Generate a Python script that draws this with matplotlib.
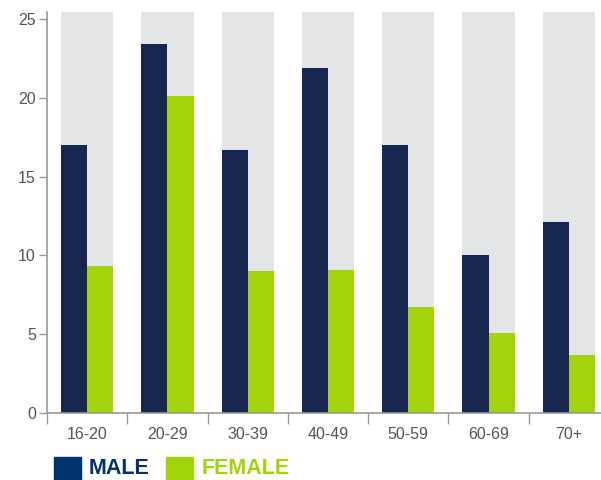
import numpy as np
import matplotlib
matplotlib.use("Agg")
import matplotlib.pyplot as plt
from matplotlib.patches import Rectangle

plt.rcParams["font.family"] = ["Liberation Sans", "DejaVu Sans"]

# data
age_groups = ["16-20", "20-29", "30-39", "40-49", "50-59", "60-69", "70+"]
male = [17.0, 23.4, 16.7, 21.9, 17.0, 10.0, 12.1]
female = [9.35, 20.1, 9.0, 9.07, 6.75, 5.05, 3.65]
y_top = 25.45

navy = "#17264f"
green = "#a3d30a"
grey_bg = "#e4e5e7"
axis_grey = "#9a9a9a"
text_grey = "#555555"

fig = plt.figure(figsize=(6.01, 4.80), dpi=100)
ax = fig.add_axes([47 / 601, 1 - 413 / 480, 562 / 601, 401 / 480])

x = np.arange(len(age_groups))
w = 0.325

# grey background columns spanning full height
ax.bar(x, [y_top] * len(x), width=2 * w, color=grey_bg, zorder=1)
ax.bar(x - w / 2, male, width=w, color=navy, zorder=2)
ax.bar(x + w / 2, female, width=w, color=green, zorder=2)

ax.set_xlim(-0.5, len(x) - 0.5)
ax.set_ylim(0, y_top)

for s in ["top", "right"]:
    ax.spines[s].set_visible(False)
ax.spines["left"].set_color(axis_grey)
ax.spines["bottom"].set_color(axis_grey)
ax.spines["left"].set_linewidth(1.2)
ax.spines["bottom"].set_linewidth(1.2)

ax.set_yticks([0, 5, 10, 15, 20, 25])
ax.tick_params(axis="y", length=6, width=1, color=axis_grey, labelcolor=text_grey,
               labelsize=11.5, pad=2)

ax.set_xticks(x)
ax.set_xticklabels(age_groups)
ax.set_xticks(np.arange(len(x)) - 0.5, minor=True)
ax.tick_params(axis="x", which="major", length=0, labelcolor=text_grey,
               labelsize=11.5, pad=10)
ax.tick_params(axis="x", which="minor", length=8, width=1, color=axis_grey)
# last label sits a bit to the right in the reference
ax.get_xticklabels()[-1].set_x(len(x) - 1 + 0.15)

# legend
fig.add_artist(Rectangle((54 / 601, 0), 27 / 601, 23 / 480, transform=fig.transFigure,
                         color="#00336e"))
fig.add_artist(Rectangle((166 / 601, 0), 27 / 601, 23 / 480, transform=fig.transFigure,
                         color=green))
fig.text(89 / 601, 1 - 469 / 480, "MALE", color="#00336e", fontsize=15.5, fontweight="bold",
         va="center", ha="left")
fig.text(202 / 601, 1 - 469 / 480, "FEMALE", color=green, fontsize=15.5, fontweight="bold",
         va="center", ha="left")

fig.savefig("out.png", dpi=100)
